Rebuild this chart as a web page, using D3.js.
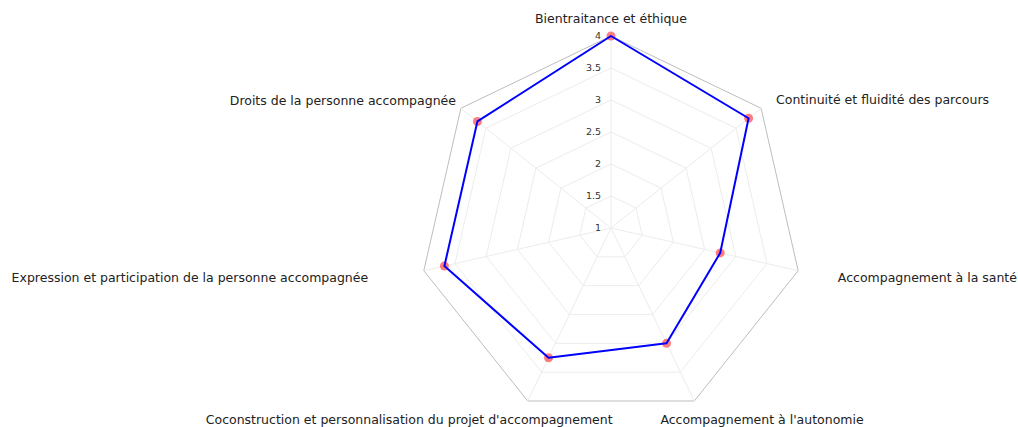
<!DOCTYPE html>
<html lang="fr">
<head>
    <meta charset="UTF-8">
    <title>Radar</title>
    <script src="https://d3js.org/d3.v7.min.js"></script>
    <style>
        body { margin: 0; background: #fff; }
        .axis-name { font-family: "DejaVu Sans", sans-serif; font-size: 12.5px; fill: #222; }
        .tick-label { font-family: "DejaVu Sans", sans-serif; font-size: 9.5px; fill: #333; }
    </style>
</head>
<body>
    <svg width="1018" height="427"></svg>
    <script>
        // axes, dans le sens horaire depuis le haut
        const categories = [
            "Bientraitance et éthique",
            "Continuité et fluidité des parcours",
            "Accompagnement à la santé",
            "Accompagnement à l'autonomie",
            "Coconstruction et personnalisation du projet d'accompagnement",
            "Expression et participation de la personne accompagnée",
            "Droits de la personne accompagnée"
        ];
        const scores = [4, 3.75, 2.75, 3, 3.25, 3.67, 3.67];
        const tickValues = [1, 1.5, 2, 2.5, 3, 3.5, 4];

        // placement des noms d'axes (ancre + petit décalage en px)
        const labelLayout = [
            {anchor: "middle", dx: 0, dy: -3},
            {anchor: "start", dx: 4, dy: 0},
            {anchor: "start", dx: 26, dy: 4},
            {anchor: "start", dx: -40, dy: 6},
            {anchor: "end", dx: 91, dy: 6},
            {anchor: "end", dx: -42, dy: 4},
            {anchor: "end", dx: 6, dy: 1}
        ];

        const cx = 611, cy = 228, radius = 192;
        const n = categories.length;

        const r = d3.scaleLinear().domain([1, 4]).range([0, radius]);
        const angle = d3.scaleLinear().domain([0, n]).range([0, 2 * Math.PI]);

        const svg = d3.select("svg");
        const g = svg.append("g").attr("transform", "translate(" + cx + "," + cy + ")");

        const ring = d3.lineRadial()
            .angle((d, i) => angle(i))
            .radius(d => r(d))
            .curve(d3.curveLinearClosed);

        // cercles de la grille
        tickValues.slice(1).forEach(function(v) {
            g.append("path")
                .attr("d", ring(categories.map(() => v)))
                .attr("fill", "none")
                .attr("stroke", v === 4 ? "#bdbdbd" : "#ececec")
                .attr("stroke-width", 1);
        });

        // rayons
        g.selectAll(".spoke")
            .data(categories)
            .enter().append("line")
            .attr("class", "spoke")
            .attr("x1", 0).attr("y1", 0)
            .attr("x2", (d, i) => r(4) * Math.sin(angle(i)))
            .attr("y2", (d, i) => -r(4) * Math.cos(angle(i)))
            .attr("stroke", "#ececec")
            .attr("stroke-width", 1);

        // graduations
        g.selectAll(".tick-label")
            .data(tickValues)
            .enter().append("text")
            .attr("class", "tick-label")
            .attr("x", -10)
            .attr("y", d => -r(d))
            .attr("dy", "0.35em")
            .attr("text-anchor", "end")
            .text(d => d);

        // points
        g.selectAll(".dot")
            .data(scores)
            .enter().append("circle")
            .attr("class", "dot")
            .attr("cx", (d, i) => r(d) * Math.sin(angle(i)))
            .attr("cy", (d, i) => -r(d) * Math.cos(angle(i)))
            .attr("r", 4.5)
            .attr("fill", "red")
            .attr("fill-opacity", 0.5);

        // série
        g.append("path")
            .attr("d", ring(scores))
            .attr("fill", "none")
            .attr("stroke", "#0000ff")
            .attr("stroke-width", 2)
            .attr("stroke-linejoin", "round");

        // noms des axes
        g.selectAll(".axis-name")
            .data(categories)
            .enter().append("text")
            .attr("class", "axis-name")
            .attr("x", (d, i) => (radius + 14) * Math.sin(angle(i)) + labelLayout[i].dx)
            .attr("y", (d, i) => -(radius + 14) * Math.cos(angle(i)) + labelLayout[i].dy)
            .attr("dy", "0.35em")
            .attr("text-anchor", (d, i) => labelLayout[i].anchor)
            .text(d => d);
    </script>
</body>
</html>
